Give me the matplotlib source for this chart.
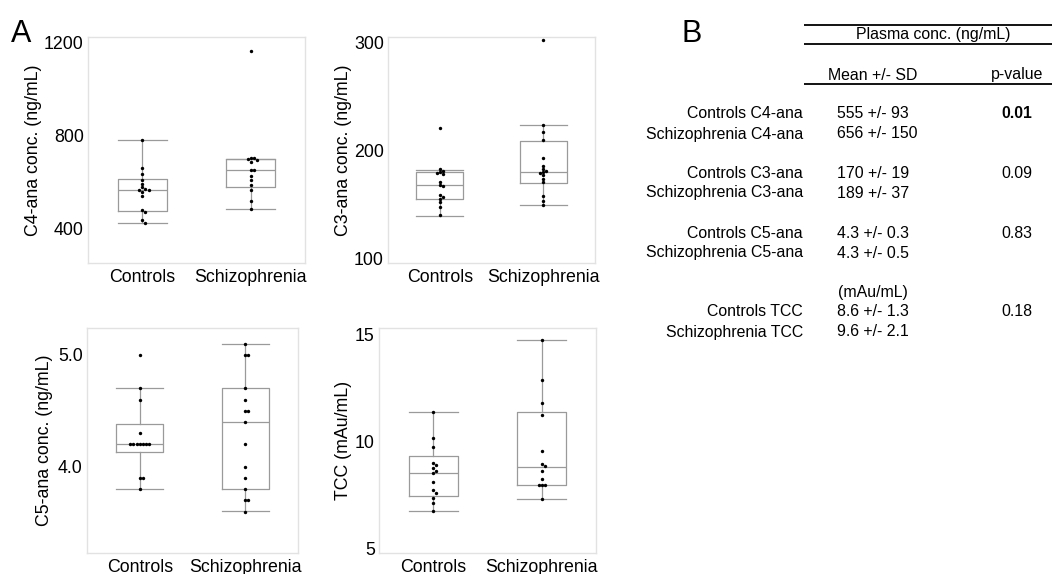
import matplotlib
matplotlib.use("Agg")
import matplotlib.pyplot as plt
import numpy as np

plt.rcParams['font.family'] = ['Liberation Sans', 'DejaVu Sans']

W, H = 1052, 574
DPI = 100

groups = ["Controls", "Schizophrenia"]

# ---- data ----
c4_controls = [782, 662, 636, 608, 592, 576, 568, 566, 564, 556, 540, 478, 468, 436, 423]
c4_schizo = [1164, 702, 701, 700, 694, 686, 651, 651, 626, 606, 585, 566, 516, 485]
c3_controls = [221, 183, 181, 180, 179, 178, 171, 168, 167, 159, 157, 155, 152, 148, 140]
c3_schizo = [302, 224, 217, 210, 193, 186, 183, 181, 180, 179, 177, 174, 171, 158, 153, 150]
c5_controls = [5.0, 4.7, 4.6, 4.3, 4.2, 4.2, 4.2, 4.2, 4.2, 4.2, 4.2, 3.9, 3.9, 3.8]
c5_schizo = [5.1, 5.0, 5.0, 4.7, 4.6, 4.5, 4.5, 4.4, 4.2, 4.0, 3.9, 3.8, 3.7, 3.7, 3.6]
tcc_controls = [11.39, 10.19, 9.74, 9.0, 8.9, 8.77, 8.64, 8.55, 8.13, 7.74, 7.6, 7.37, 7.14, 6.77]
tcc_schizo = [14.75, 12.86, 11.78, 11.26, 9.57, 8.97, 8.84, 8.61, 8.26, 7.98, 7.98, 7.98, 7.33]

# box statistics: [whislo, q1, med, q3, whishi]
c4_box = [[423, 474, 564, 612, 782], [485, 580, 651, 698, 698]]
c3_box = [[139.5, 155, 168.5, 180, 182], [149.5, 170, 180, 209, 224]]
c5_box = [[3.80, 4.128, 4.20, 4.378, 4.70], [3.607, 3.80, 4.40, 4.70, 5.10]]
tcc_box = [[6.77, 7.47, 8.55, 9.33, 11.39], [7.33, 7.98, 8.80, 11.37, 14.75]]

c4_ticks = [400, 800, 1200]
c3_ticks = [100, 200, 300]
c5_ticks = [4.0, 5.0]
c5_ticklabels = ["4.0", "5.0"]
tcc_ticks = [5, 10, 15]

ylabels = ["C4-ana conc. (ng/mL)", "C3-ana conc. (ng/mL)",
           "C5-ana conc. (ng/mL)", "TCC (mAu/mL)"]

# table data
row_labels = ["Controls C4-ana", "Schizophrenia C4-ana",
              "Controls C3-ana", "Schizophrenia C3-ana",
              "Controls C5-ana", "Schizophrenia C5-ana",
              "Controls TCC", "Schizophrenia TCC"]
row_values = ["555 +/- 93", "656 +/- 150", "170 +/- 19", "189 +/- 37",
              "4.3 +/- 0.3", "4.3 +/- 0.5", "8.6 +/- 1.3", "9.6 +/- 2.1"]
p_values = ["0.01", "0.09", "0.83", "0.18"]
p_bold = [True, False, False, False]

# ---- layout ----
fig = plt.figure(figsize=(W / DPI, H / DPI), dpi=DPI)

def add_ax(l, r, t, b):
    return fig.add_axes([l / W, 1 - b / H, (r - l) / W, (b - t) / H])

panels = [
    dict(pos=(88, 305, 37, 263), ylim=(250, 1225), ticks=c4_ticks, tl=[str(t) for t in c4_ticks],
         data=[c4_controls, c4_schizo], box=c4_box, lab=ylabels[0], labx=33),
    dict(pos=(388, 595, 37, 263), ylim=(96, 305), ticks=c3_ticks, tl=[str(t) for t in c3_ticks],
         data=[c3_controls, c3_schizo], box=c3_box, lab=ylabels[1], labx=343),
    dict(pos=(87, 298, 328, 553), ylim=(3.23, 5.24), ticks=c5_ticks, tl=c5_ticklabels,
         data=[c5_controls, c5_schizo], box=c5_box, lab=ylabels[2], labx=45),
    dict(pos=(379, 596, 328, 553), ylim=(4.8, 15.3), ticks=tcc_ticks, tl=[str(t) for t in tcc_ticks],
         data=[tcc_controls, tcc_schizo], box=tcc_box, lab=ylabels[3], labx=343),
]

BOXC = "#9a9a9a"
FS = 12.8

for p in panels:
    l, r, t, b = p["pos"]
    ax = add_ax(l, r, t, b)
    ax.set_xlim(-0.5, 1.5)
    ax.set_ylim(*p["ylim"])
    stats = []
    for i, s in enumerate(p["box"]):
        stats.append(dict(whislo=s[0], q1=s[1], med=s[2], q3=s[3], whishi=s[4], label=groups[i]))
    ax.bxp(stats, positions=[0, 1], widths=0.45, showfliers=False,
           boxprops=dict(color=BOXC, linewidth=0.9),
           whiskerprops=dict(color=BOXC, linewidth=0.9),
           capprops=dict(color=BOXC, linewidth=0.9),
           medianprops=dict(color=BOXC, linewidth=0.9),
           capwidths=0.45)
    # swarm placement in pixel space
    pxx = (r - l) / 2.0
    pxy = (b - t) / (p["ylim"][1] - p["ylim"][0])
    d = 3.2
    for i, vals in enumerate(p["data"]):
        placed = []
        xs = []
        for v in vals:
            yp = v * pxy
            k = 0
            cands = [0]
            for m in range(1, 20):
                cands += [m * d, -m * d]
            for c in cands:
                if all((c - px) ** 2 + (yp - py) ** 2 >= (d * 0.95) ** 2 for px, py in placed):
                    break
            placed.append((c, yp))
            xs.append(i + c / pxx)
        ax.scatter(xs, vals, s=6, color="black", linewidths=0, zorder=3)
    ax.set_xticks([0, 1])
    ax.set_xticklabels(groups, fontsize=FS)
    ax.set_yticks(p["ticks"])
    ax.set_yticklabels(p["tl"], fontsize=FS)
    ax.tick_params(length=0, pad=3)
    ax.tick_params(axis="x", pad=4)
    for sp in ax.spines.values():
        sp.set_color("#e2e2e2")
        sp.set_linewidth(1.0)
    ax.set_ylabel(p["lab"], fontsize=FS, va="center")
    ax.yaxis.set_label_coords((p["labx"] - l) / (r - l), 0.5)

# panel letters
fig.text(11 / W, 1 - 42 / H, "A", fontsize=22, ha="left", va="baseline")
fig.text(682 / W, 1 - 42 / H, "B", fontsize=22, ha="left", va="baseline")

# ---- table ----
tax = fig.add_axes([0, 0, 1, 1])
tax.set_xlim(0, W)
tax.set_ylim(H, 0)
tax.axis("off")
TFS = 11.4
for yy in [25, 44, 84]:
    tax.plot([804, 1052], [yy, yy], color="black", linewidth=1.3, solid_capstyle="butt")
tax.text(933, 35, "Plasma conc. (ng/mL)", fontsize=TFS, ha="center", va="center")
tax.text(873, 75, "Mean +/- SD", fontsize=TFS, ha="center", va="center")
tax.text(1017, 75, "p-value", fontsize=TFS, ha="center", va="center")

row_y = [114, 134, 173, 193, 233, 253, 312, 332]
for lab, val, y in zip(row_labels, row_values, row_y):
    tax.text(803, y, lab, fontsize=TFS, ha="right", va="center")
    tax.text(837, y, val, fontsize=TFS, ha="left", va="center")
tax.text(838, 293, "(mAu/mL)", fontsize=TFS, ha="left", va="center")
for k, (pv, bold) in enumerate(zip(p_values, p_bold)):
    tax.text(1001, row_y[2 * k], pv, fontsize=TFS, ha="left", va="center",
             fontweight="bold" if bold else "normal")

fig.savefig("out.png", dpi=DPI)
